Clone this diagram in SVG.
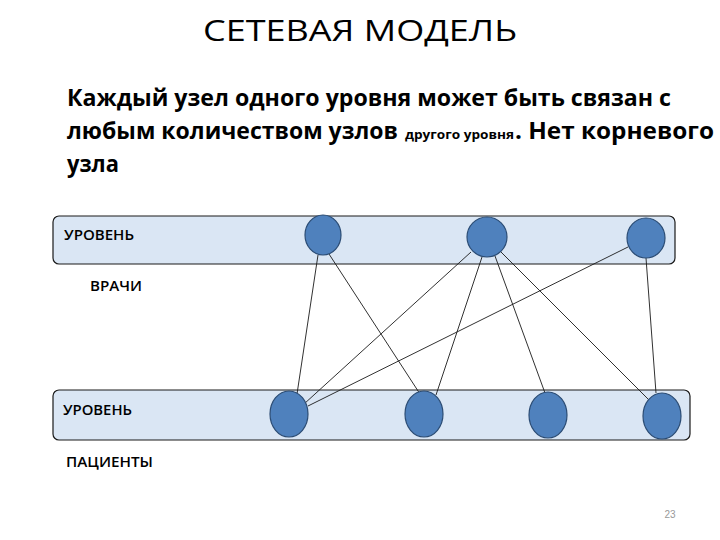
<svg xmlns="http://www.w3.org/2000/svg" width="720" height="540" viewBox="0 0 720 540">
<style>
.band{fill:#dae6f4;stroke:#1a1a1a;stroke-width:1.2}
.node{fill:#4f81bd;stroke:#2c4d75;stroke-width:1.2}
.edge{stroke:#1a1a1a;stroke-width:0.9;fill:none}
.lbl{font-family:"Open Sans","Liberation Sans",sans-serif;font-size:14.5px;font-weight:600;fill:#000}
.body{font-family:"Open Sans","Liberation Sans",sans-serif;font-weight:bold;font-size:23px;fill:#000}
</style>
<rect width="720" height="540" fill="#ffffff"/>
<text x="360" y="41" text-anchor="middle" font-family="Open Sans, Liberation Sans, sans-serif" font-size="30" font-weight="500" textLength="314" lengthAdjust="spacingAndGlyphs">СЕТЕВАЯ МОДЕЛЬ</text>
<text class="body" x="67" y="106" textLength="604" lengthAdjust="spacingAndGlyphs">Каждый узел одного уровня может быть связан с</text>
<text class="body" x="67" y="139" textLength="331" lengthAdjust="spacingAndGlyphs">любым количеством узлов</text>
<text x="405" y="139" font-family="Open Sans, Liberation Sans, sans-serif" font-weight="bold" font-size="12" textLength="109" lengthAdjust="spacingAndGlyphs">другого уровня</text>
<text class="body" x="515" y="139" textLength="199" lengthAdjust="spacingAndGlyphs">. Нет корневого</text>
<text class="body" x="67" y="172" textLength="52" lengthAdjust="spacingAndGlyphs">узла</text>
<g id="level-doctors">
<rect class="band" x="53" y="216" width="622" height="48" rx="6"/>
<text class="lbl" x="64" y="240" textLength="70" lengthAdjust="spacingAndGlyphs">УРОВЕНЬ</text>
</g>
<text class="lbl" x="90" y="291" textLength="52" lengthAdjust="spacingAndGlyphs">ВРАЧИ</text>
<g id="level-patients">
<rect class="band" x="53" y="390" width="637" height="50" rx="6"/>
<text class="lbl" x="63" y="415" textLength="69" lengthAdjust="spacingAndGlyphs">УРОВЕНЬ</text>
</g>
<text class="lbl" x="66" y="467" textLength="87" lengthAdjust="spacingAndGlyphs">ПАЦИЕНТЫ</text>
<g id="connectors">
<line class="edge" x1="318" y1="255" x2="297" y2="394"/>
<line class="edge" x1="329" y1="254" x2="420" y2="394"/>
<line class="edge" x1="471" y1="252" x2="304" y2="404"/>
<line class="edge" x1="482" y1="257" x2="436" y2="395"/>
<line class="edge" x1="495" y1="256" x2="545" y2="393"/>
<line class="edge" x1="501" y1="252" x2="651" y2="402"/>
<line class="edge" x1="628" y1="247" x2="308" y2="406"/>
<line class="edge" x1="646" y1="258" x2="656" y2="393"/>
</g>
<g id="d1"><ellipse class="node" cx="323" cy="235" rx="18" ry="20"/></g>
<g id="d2"><ellipse class="node" cx="487" cy="237" rx="20" ry="20"/></g>
<g id="d3"><ellipse class="node" cx="646" cy="238" rx="19" ry="20"/></g>
<g id="p1"><ellipse class="node" cx="289" cy="414" rx="19" ry="23"/></g>
<g id="p2"><ellipse class="node" cx="424" cy="414" rx="19" ry="23"/></g>
<g id="p3"><ellipse class="node" cx="548" cy="415" rx="19" ry="23"/></g>
<g id="p4"><ellipse class="node" cx="662" cy="416" rx="19" ry="23"/></g>
<text x="670" y="518" text-anchor="middle" font-family="Liberation Sans, sans-serif" font-size="10" fill="#999">23</text>
</svg>
